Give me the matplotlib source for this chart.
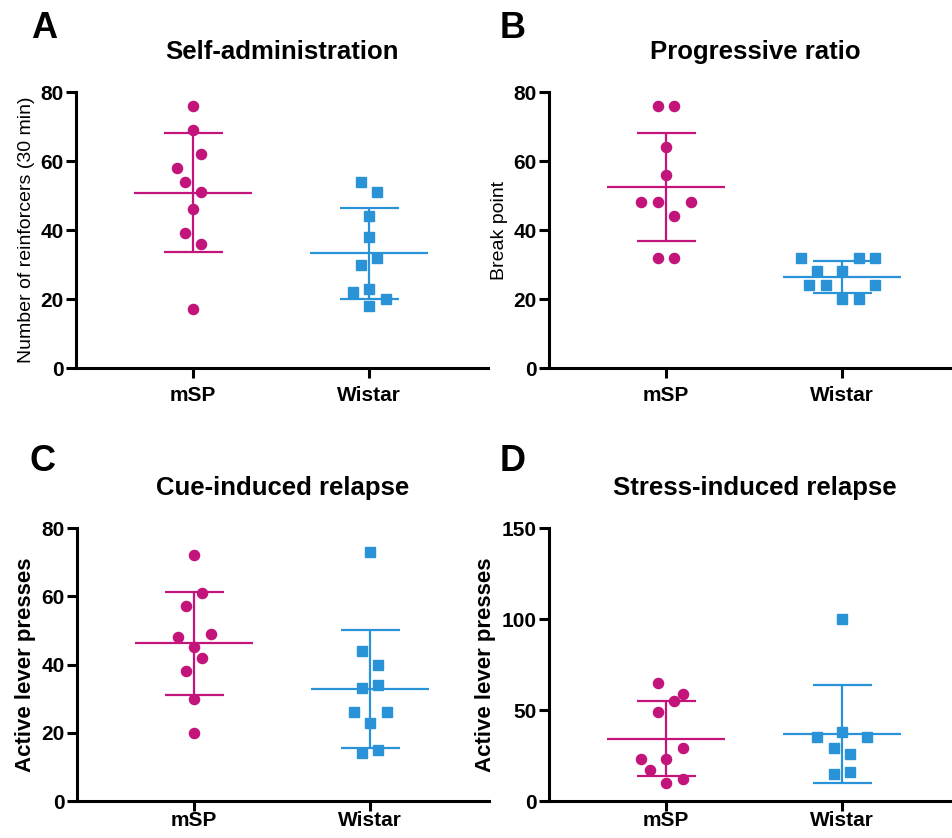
import numpy as np
import matplotlib.pyplot as plt

plt.rcParams['font.family'] = ['Liberation Sans', 'DejaVu Sans']

# groups and colours
groups = ['mSP', 'Wistar']
msp_color = '#C2147A'
wistar_color = '#2A93D8'

# A: self-administration (number of reinforcers, 30 min)
sa_msp = [76, 69, 62, 58, 54, 51, 46, 39, 36, 17]
sa_msp_dx = [0, 0, 1, -2, -1, 1, 0, -1, 1, 0]
sa_wistar = [54, 51, 44, 38, 32, 30, 23, 22, 20, 18]
sa_wistar_dx = [-1, 1, 0, 0, 1, -1, 0, -2, 2, 0]

# B: progressive ratio (break point)
pr_msp = [76, 76, 64, 56, 48, 48, 48, 44, 32, 32]
pr_msp_dx = [-1, 1, 0, 0, -3, -1, 3, 1, -1, 1]
pr_wistar = [32, 32, 32, 28, 28, 24, 24, 24, 20, 20]
pr_wistar_dx = [-5, 2, 4, -3, 0, -4, -2, 4, 0, 2]

# C: cue-induced relapse
cue_msp = [72, 61, 57, 48, 49, 45, 42, 38, 30, 20]
cue_msp_dx = [0, 1, -1, -2, 2, 0, 1, -1, 0, 0]
cue_wistar = [73, 44, 40, 34, 33, 26, 26, 23, 14, 15]
cue_wistar_dx = [0, -1, 1, 1, -1, -2, 2, 0, -1, 1]

# D: stress-induced relapse
stress_msp = [65, 59, 55, 49, 29, 23, 23, 17, 12, 10]
stress_msp_dx = [-1, 2, 1, -1, 2, -3, 0, -2, 2, 0]
stress_wistar = [100, 38, 35, 35, 29, 26, 15, 16]
stress_wistar_dx = [0, 0, -3, 3, -1, 1, -1, 1]

jitter_step = 0.047

panels = [
    ('A', 'Self-administration', 'Number of reinforcers (30 min)', 'normal', 80, 20,
     sa_msp, sa_msp_dx, sa_wistar, sa_wistar_dx),
    ('B', 'Progressive ratio', 'Break point', 'normal', 80, 20,
     pr_msp, pr_msp_dx, pr_wistar, pr_wistar_dx),
    ('C', 'Cue-induced relapse', 'Active lever presses', 'bold', 80, 20,
     cue_msp, cue_msp_dx, cue_wistar, cue_wistar_dx),
    ('D', 'Stress-induced relapse', 'Active lever presses', 'bold', 150, 50,
     stress_msp, stress_msp_dx, stress_wistar, stress_wistar_dx),
]

W, H = 953, 838
fig = plt.figure(figsize=(W / 100, H / 100), dpi=100)

# axes boxes in pixels: left, top, right, bottom
boxes = [(76, 92, 488, 368), (549, 92, 961, 368),
         (77, 528, 489, 801), (549, 528, 961, 801)]
letter_pos = [(31, 38), (500, 38), (30, 471), (500, 471)]
xpads = [6, 6, 0.5, 0.5]

for (letter, title, ylabel, yweight, ymax, ystep,
     v1, dx1, v2, dx2), box, lp, xpad in zip(panels, boxes, letter_pos, xpads):
    l, t, r, b = box
    ax = fig.add_axes([l / W, 1 - b / H, (r - l) / W, (b - t) / H])

    for i, (vals, dx, color, marker, ms) in enumerate([
            (v1, dx1, msp_color, 'o', 7.3),
            (v2, dx2, wistar_color, 's', 6.6)]):
        vals = np.array(vals, dtype=float)
        xs = i + np.array(dx) * jitter_step
        ax.plot(xs, vals, linestyle='none', marker=marker, ms=ms,
                color=color, mec=color, zorder=3, clip_on=False)
        m = vals.mean()
        sd = vals.std(ddof=1)
        ax.hlines(m, i - 0.335, i + 0.335, color=color, lw=1.6, zorder=2)
        ax.hlines([m - sd, m + sd], i - 0.168, i + 0.168, color=color, lw=1.6, zorder=2)
        ax.vlines(i, m - sd, m + sd, color=color, lw=1.6, zorder=2)

    ax.set_xlim(-0.665, 1.675)
    ax.set_ylim(0, ymax)
    ax.set_yticks(np.arange(0, ymax + 1, ystep))
    ax.set_xticks([0, 1])
    ax.set_xticklabels(groups)
    for s in ['top', 'right']:
        ax.spines[s].set_visible(False)
    for s in ['left', 'bottom']:
        ax.spines[s].set_linewidth(2.2)
    ax.tick_params(width=2.2, length=7, labelsize=15, pad=2)
    ax.tick_params(axis='x', pad=xpad)
    for lab in ax.get_xticklabels() + ax.get_yticklabels():
        lab.set_fontweight('bold')
    ax.set_ylabel(ylabel, fontsize=16 if yweight == 'bold' else 14,
                  fontweight=yweight, labelpad=4)
    ax.set_title(title, fontsize=18.5, fontweight='bold', pad=24)

    fig.text(lp[0] / W, 1 - lp[1] / H, letter, fontsize=26, fontweight='bold',
             ha='left', va='baseline')

fig.savefig('out.png', dpi=100)
